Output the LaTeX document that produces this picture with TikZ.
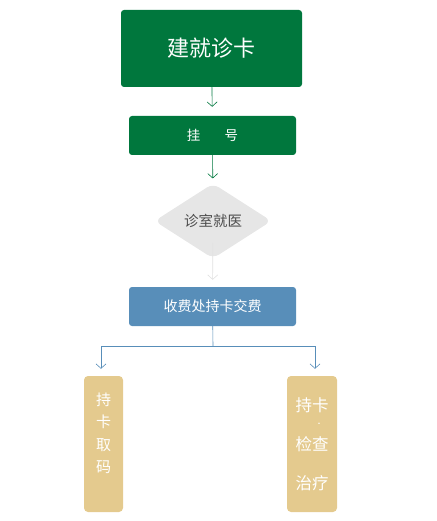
\documentclass[tikz,border=0pt]{standalone}
\usepackage{fontspec}
\usepackage{xcolor}
\usepackage{tikz}
\usetikzlibrary{shapes.geometric, arrows.meta}
\newfontfamily\cjk{Noto Sans CJK SC}

\definecolor{cardgreen}{HTML}{00773D}
\definecolor{paysblue}{HTML}{588EB9}
\definecolor{sandtan}{HTML}{E4CA8E}
\definecolor{roomgray}{HTML}{E6E6E6}

\begin{document}
\begin{tikzpicture}[
    x=1pt, y=-1pt,
    greenbox/.style={rectangle, rounded corners=3pt, fill=cardgreen, text=white, inner sep=0pt, font=\cjk},
    bluebox/.style={rectangle, rounded corners=3pt, fill=paysblue, text=white, inner sep=0pt, font=\cjk\fontsize{14}{16}\selectfont},
    tanbox/.style={rectangle, rounded corners=4pt, fill=sandtan, inner sep=0pt},
    tantext/.style={text=white, inner sep=0pt, align=center, font=\cjk\fontsize{15}{22.5}\selectfont},
    roombox/.style={diamond, rounded corners=7pt, fill=roomgray, text=black!70, inner sep=0pt, minimum width=117pt, minimum height=75pt, font=\cjk\fontsize{14.5}{16}\selectfont},
    arrow/.style={-{Straight Barb[length=4.5pt, width=10pt]}, semithick}
]
    \useasboundingbox (0,0) rectangle (436,521);

    % Nodes
    \node[greenbox, minimum width=181pt, minimum height=77pt, font=\cjk\fontsize{22}{26}\selectfont] (card) at (211.5,48.5) {建就诊卡};
    \node[greenbox, minimum width=167pt, minimum height=39pt, font=\cjk\fontsize{13.5}{15}\selectfont] (reg) at (212.5,135.5) {挂\hspace{1.8em}号};
    \node[roombox] (room) at (213,221) {诊室就医};
    \node[bluebox, minimum width=167pt, minimum height=39pt] (pay) at (212.5,306.5) {收费处持卡交费};
    \node[tanbox, minimum width=39pt, minimum height=136pt,
        label={[tantext, yshift=10.5pt]center:持\\卡\\取\\码}] (code) at (103.5,444) {};
    \node[tanbox, minimum width=50pt, minimum height=136pt,
        label={[tantext, yshift=0pt, font=\cjk\fontsize{16.5}{22.5}\selectfont]center:持卡\\[-7pt]{\fontsize{7}{7}\selectfont\hspace{14pt}·}\\[1.5pt]检查\\[16pt]治疗}] (exam) at (312,444) {};

    % Arrows
    \draw[arrow, cardgreen, shorten >=9pt] (card) -- (reg);
    \draw[arrow, cardgreen, shorten >=5pt] (reg) -- (room);
    \draw[arrow, black!12, shorten <=22pt, shorten >=7pt] (room.center) -- (pay);
    \coordinate (split) at (213,346);
    \draw[paysblue, semithick] (pay) -- (split);
    \draw[arrow, paysblue, shorten >=7pt] (split) -| ([xshift=-2.5pt]code.north);
    \draw[arrow, paysblue, shorten >=7pt] (split) -| ([xshift=3pt]exam.north);
\end{tikzpicture}
\end{document}
